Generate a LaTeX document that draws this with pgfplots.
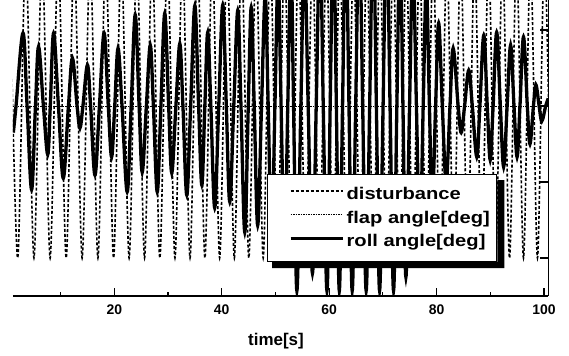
\documentclass[border=0pt]{standalone}
\usepackage{fontspec}
\setmainfont{Liberation Sans}
\newfontfamily\legfont{Liberation Sans}[FakeStretch=1.19]
\usepackage{pgfplots}
\pgfplotsset{compat=1.18}
\begin{document}
\begin{tikzpicture}
\path[use as bounding box] (0,0) rectangle (569bp,356bp);
\begin{axis}[
  at={(12.8bp,60bp)}, anchor=south west,
  scale only axis, width=535.4bp, height=296bp,
  xmin=1.1, xmax=100.8, ymin=-25, ymax=13.95,
  axis x line*=bottom, axis y line*=right,
  axis line style={-, line width=1.2bp},
  xtick={20,40,60,80,100}, minor xtick={10,30,50,70,90},
  ytick={-20,-10,0,10}, yticklabels={},
  tick align=inside, major tick length=8bp, minor tick length=4bp,
  tick style={line width=1.2bp, black},
  ticklabel style={font=\fontsize{14}{16}\selectfont\bfseries},
  xticklabel style={yshift=-5bp},
  /pgf/number format/assume math mode=true,
  xlabel={time[s]},
  xlabel style={font=\fontsize{17}{20}\selectfont\bfseries, at={(axis description cs:0.4916,-0.152)}, anchor=center},
  legend style={name=leg, at={(axis description cs:0.475,0.412)}, anchor=north west,
    draw=black, fill=white, line width=1bp,
    font=\fontsize{17}{20}\selectfont\legfont\bfseries,
    inner xsep=6bp, inner ysep=10bp, row sep=3.5bp, column sep=0bp,
    nodes={inner sep=1bp, text height=14bp, text depth=4bp}},
  legend cell align=left,
  legend image code/.code={\path[draw=none] (0bp,0bp) -- (72bp,0bp); \draw[#1] (17bp,0.33em) -- (69bp,0.33em);},
]
\addplot[black, line width=1.6bp, dash pattern=on 3bp off 2bp, smooth] coordinates {
(0.45,20) (2.0,-20) (3.5,20) (5.04,-20) (6.55,20) (8.05,-20) (9.55,20) (11.04,-20) (12.52,20) (14.01,-20) (15.5,20) (16.95,-20) (18.4,20) (19.87,-20) (21.3,20) (22.76,-20) (24.2,20) (25.63,-20) (27.05,20) (28.48,-20) (29.9,20) (31.3,-20) (32.7,20) (34.1,-20) (35.5,20) (36.87,-20) (38.25,20) (39.62,-20) (41.0,20) (42.35,-20) (43.7,20) (45.05,-20) (46.4,20) (47.73,-20) (49.05,20) (50.38,-20) (51.7,20) (53.01,-20) (54.3,20) (55.62,-20) (56.9,20) (58.2,-20) (59.5,20) (60.76,-20) (62.0,20) (63.29,-20) (64.55,20) (65.8,-20) (67.02,20) (68.25,-20) (69.47,20) (70.7,-20) (71.92,20) (73.15,-20) (74.37,20) (75.6,-20) (76.85,20) (78.1,-20) (79.37,20) (80.65,-20) (81.92,20) (83.2,-20) (84.5,20) (85.8,-20) (87.1,20) (88.4,-20) (89.7,20) (91.0,-20) (92.3,20) (93.6,-20) (94.9,20) (96.2,-20) (97.5,20) (98.8,-20) (100.1,20) (101.4,-20)
};
\addlegendentry{disturbance}
\addplot[black, line width=0.8bp, dash pattern=on 1.5bp off 1bp] coordinates {(1.1,0) (100.8,0)};
\addlegendentry{flap angle[deg]}
\addplot[black, line width=3.3bp, smooth, tension=0.6] coordinates {
(1.2,-3.5) (1.7,0) (3.0,9.6) (3.76,0) (4.6,-11) (5.32,0) (5.9,7.8) (6.80,0) (7.6,-6.4) (8.08,0) (8.7,9.6) (9.6,0) (10.5,-9.5) (11.46,0) (12.2,6.3) (13.07,0) (13.6,-2.9) (14.16,0) (15.0,5.4) (15.59,0) (16.4,-9.1) (17.23,0) (18.1,9.6) (18.88,0) (19.5,-6.7) (20.08,0) (20.7,7.6) (21.44,0) (22.4,-11.3) (23.14,0) (23.9,12.0) (24.62,0) (25.2,-8.7) (25.97,0) (26.7,8.0) (27.28,0) (28.0,-11.3) (28.68,0) (29.4,12.2) (30.12,0) (30.7,-8.8) (31.47,0) (32.2,8.2) (32.78,0) (33.5,-11.7) (34.22,0) (35.0,13.2) (35.70,0) (36.3,-10.4) (36.86,0) (37.4,9.7) (37.98,0) (38.7,-13.4) (39.45,0) (40.2,13.3) (40.86,0) (41.5,-12.6) (42.25,0) (43.0,12.6) (43.59,0) (44.3,-16.6) (44.95,0) (45.5,13.0) (46.06,0) (46.7,-15.7) (47.42,0) (48.1,14.5) (48.66,0) (49.3,-18) (49.91,0) (50.5,17) (51.06,0) (51.7,-20) (52.3,0) (52.9,19) (53.38,0) (54.0,-24.3) (54.74,0) (55.4,20) (56.1,0) (56.9,-22) (57.6,0) (58.3,22) (58.91,0) (59.6,-24.3) (60.2,0) (60.8,24) (61.35,0) (61.9,-24.3) (62.5,0) (63.1,24) (63.7,0) (64.3,-24.3) (64.95,0) (65.6,24) (66.25,0) (66.9,-24.3) (67.55,0) (68.2,24) (68.8,0) (69.4,-24.3) (70.05,0) (70.7,24) (71.35,0) (72.0,-24.3) (72.62,0) (73.2,22) (73.75,0) (74.3,-22.5) (74.98,0) (75.6,19) (76.26,0) (76.9,-18) (77.52,0) (78.1,16) (78.68,0) (79.2,-13) (79.83,0) (80.4,10.9) (81.08,0) (81.8,-10) (82.51,0) (83.1,7.6) (84.03,0) (84.6,-3.5) (85.23,0) (86.0,4.7) (86.67,0) (87.5,-6.7) (88.08,0) (88.8,9.3) (89.45,0) (90.0,-7.1) (90.54,0) (91.2,9.7) (91.89,0) (92.5,-8) (93.15,0) (93.8,8) (94.43,0) (95.0,-6.7) (95.54,0) (96.2,9.1) (96.91,0) (97.4,-5) (98.05,0) (98.5,2.8) (99.11,0) (99.6,-2) (100.33,0) (100.8,1)
};
\addlegendentry{roll angle[deg]}
\end{axis}
\fill[black] ([yshift=-6bp]leg.north east) -- ([xshift=7bp,yshift=-6bp]leg.north east)
  -- ([xshift=7bp,yshift=-6bp]leg.south east) -- ([xshift=5bp,yshift=-6bp]leg.south west)
  -- ([xshift=5bp]leg.south west) -- (leg.south east) -- cycle;
\end{tikzpicture}
\end{document}
